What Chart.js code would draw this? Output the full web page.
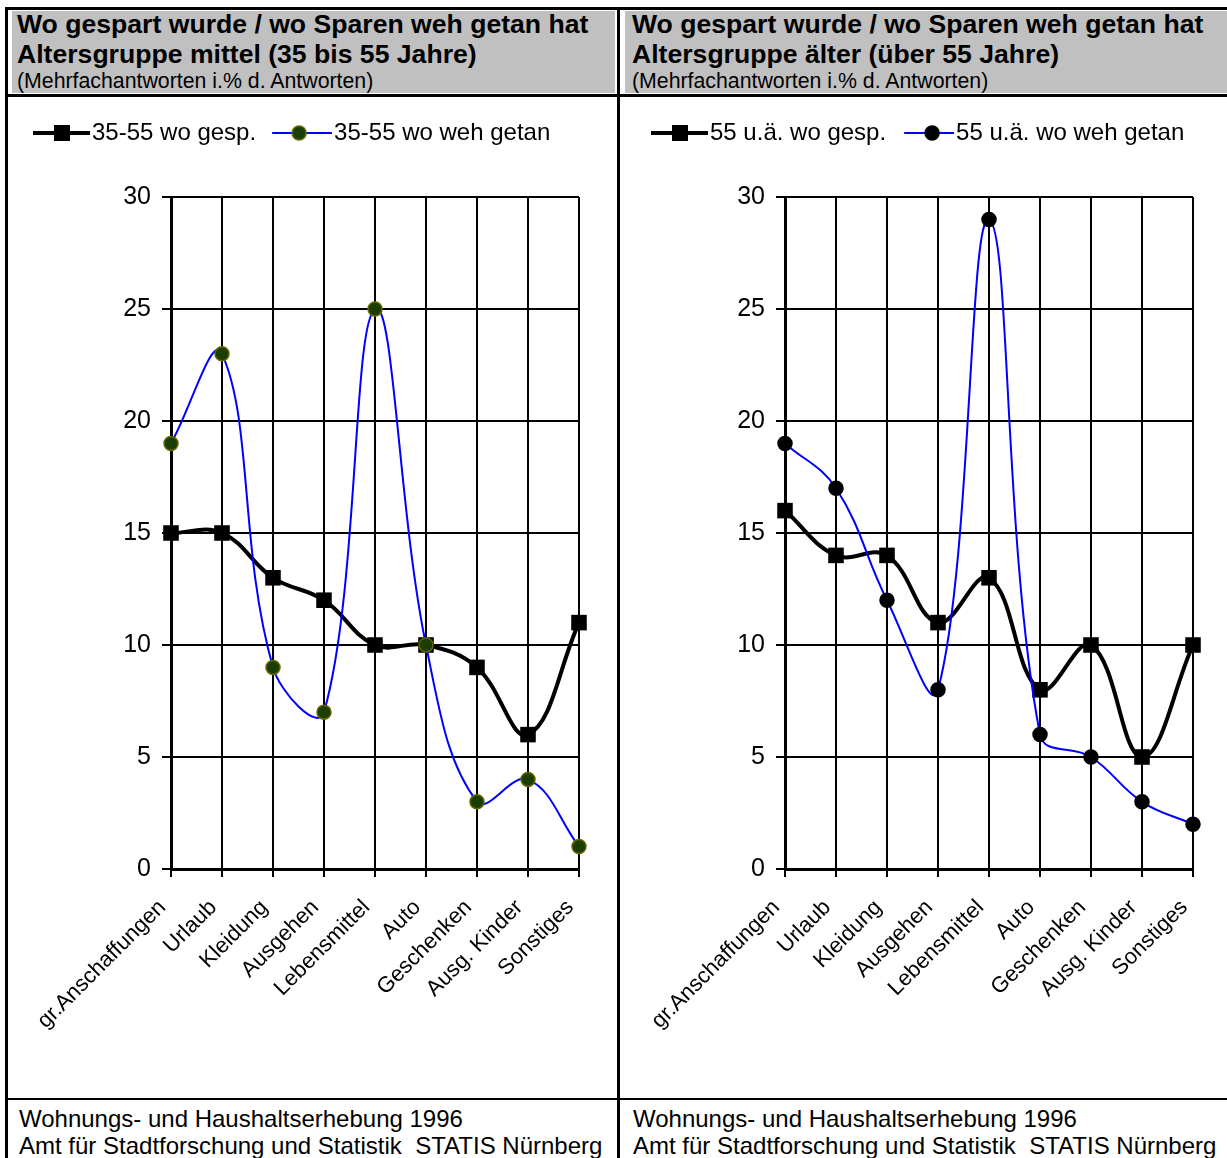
<!DOCTYPE html>
<html><head><meta charset="utf-8">
<script src="https://cdn.jsdelivr.net/npm/chart.js@4/dist/chart.umd.min.js"></script>
<style>
html,body{margin:0;padding:0;background:#fff;}
body{width:1227px;height:1158px;position:relative;overflow:hidden;font-family:"Liberation Sans",Arial,sans-serif;color:#000;}
.blk{position:absolute;background:#000;}
.gray{position:absolute;background:#c0c0c0;}
.t1{position:absolute;font-weight:bold;font-size:26.6px;line-height:30px;white-space:nowrap;}
.t3{position:absolute;font-size:21.3px;line-height:27px;white-space:nowrap;}
.ft{position:absolute;font-size:24px;line-height:27px;white-space:nowrap;}
canvas{position:absolute;}
</style></head><body>
<div class="gray" style="left:12px;top:11px;width:603px;height:82px"></div>
<div class="gray" style="left:625px;top:11px;width:602px;height:82px"></div>
<div class="blk" style="left:5px;top:7px;width:1222px;height:3px"></div>
<div class="blk" style="left:5px;top:7px;width:3px;height:1151px"></div>
<div class="blk" style="left:617px;top:7px;width:3px;height:1151px"></div>
<div class="blk" style="left:5px;top:94px;width:1222px;height:3px"></div>
<div class="blk" style="left:5px;top:1098px;width:1222px;height:2px"></div>

<div class="t1" style="left:17px;top:9px">Wo gespart wurde / wo Sparen weh getan hat</div>
<div class="t1" style="left:17px;top:39px">Altersgruppe mittel (35 bis 55 Jahre)</div>
<div class="t3" style="left:17px;top:68px">(Mehrfachantworten i.% d. Antworten)</div>
<div class="t1" style="left:632px;top:9px">Wo gespart wurde / wo Sparen weh getan hat</div>
<div class="t1" style="left:632px;top:39px">Altersgruppe älter (über 55 Jahre)</div>
<div class="t3" style="left:632px;top:68px">(Mehrfachantworten i.% d. Antworten)</div>

<div class="ft" style="left:19px;top:1105px">Wohnungs- und Haushaltserhebung 1996</div>
<div class="ft" style="left:19px;top:1132px">Amt für Stadtforschung und Statistik&nbsp; STATIS Nürnberg</div>
<div class="ft" style="left:633px;top:1105px">Wohnungs- und Haushaltserhebung 1996</div>
<div class="ft" style="left:633px;top:1132px">Amt für Stadtforschung und Statistik&nbsp; STATIS Nürnberg</div>

<canvas id="cLeft" width="608" height="1000" style="left:8px;top:97px;width:608px;height:1000px"></canvas>
<canvas id="cRight" width="606" height="1000" style="left:621px;top:97px;width:606px;height:1000px"></canvas>

<script>
// ---- data ----
const categories = ['gr.Anschaffungen','Urlaub','Kleidung','Ausgehen','Lebensmittel','Auto','Geschenken','Ausg. Kinder','Sonstiges'];
const midSaved = [15, 15, 13, 12, 10, 10, 9, 6, 11];
const midHurt  = [19, 23, 9, 7, 25, 10, 3, 4, 1];
const oldSaved = [16, 14, 14, 11, 13, 8, 10, 5, 10];
const oldHurt  = [19, 17, 12, 8, 29, 6, 5, 3, 2];
const midLabels = ['35-55 wo gesp.', '35-55 wo weh getan'];
const oldLabels = ['55 u.ä. wo gesp.', '55 u.ä. wo weh getan'];
const yMin = 0, yMax = 30, yStep = 5;

Chart.defaults.font.family = '"Liberation Sans", Arial, sans-serif';
Chart.defaults.color = '#000';

function legendImage(kind, fill, border, lineStart, circleX) {
  const c = document.createElement('canvas');
  c.width = 70; c.height = 20;
  const g = c.getContext('2d');
  if (kind === 'rect') {
    g.strokeStyle = '#000'; g.lineWidth = 4;
    g.beginPath(); g.moveTo(13, 10); g.lineTo(70, 10); g.stroke();
    g.fillStyle = '#000'; g.fillRect(34, 2, 16, 16);
  } else {
    g.strokeStyle = '#0000ff'; g.lineWidth = 2;
    g.beginPath(); g.moveTo(lineStart, 10); g.lineTo(70, 10); g.stroke();
    g.fillStyle = fill; g.strokeStyle = border; g.lineWidth = 1.5;
    g.beginPath(); g.arc(circleX, 10, 7, 0, Math.PI * 2); g.fill(); g.stroke();
  }
  return c;
}

function makeChart(id, labels, saved, hurt, hurtFill, hurtBorder, lay) {
  const imgs = [legendImage('rect'), legendImage('circle', hurtFill, hurtBorder, lay.lineStart, lay.circleX)];
  return new Chart(document.getElementById(id), {
    type: 'line',
    data: {
      labels: categories,
      datasets: [
        { label: labels[0], data: saved, order: 1, borderColor: '#000', borderWidth: 4,
          backgroundColor: '#000', pointStyle: 'rect', pointRadius: 11, pointBorderWidth: 0,
          pointBackgroundColor: '#000', tension: 0.4, clip: false },
        { label: labels[1], data: hurt, order: 0, borderColor: '#0000ff', borderWidth: 2,
          backgroundColor: hurtFill, pointStyle: 'circle', pointRadius: 7, pointBorderWidth: 1.5,
          pointBackgroundColor: hurtFill, pointBorderColor: hurtBorder, tension: 0.4, clip: false }
      ]
    },
    options: {
      responsive: false, animation: false, devicePixelRatio: 1, events: [],
      layout: { padding: { top: lay.padTop, left: lay.padLeft, right: lay.padRight, bottom: 0 } },
      plugins: {
        tooltip: { enabled: false },
        legend: {
          position: 'top', align: 'start',
          labels: {
            usePointStyle: true, pointStyleWidth: 50, padding: lay.legendPad,
            font: { size: 24 }, color: '#000',
            sort: (a, b) => a.datasetIndex - b.datasetIndex,
            generateLabels: (chart) => {
              const items = Chart.defaults.plugins.legend.labels.generateLabels(chart);
              items.forEach(it => { it.pointStyle = imgs[it.datasetIndex]; });
              return items;
            }
          }
        },
        title: { display: true, text: '', weight: 500, position: 'top',
                 font: { size: 1, lineHeight: 1 }, padding: { top: 0, bottom: 41 } }
      },
      scales: {
        x: {
          grid: { color: '#000', lineWidth: 2, tickLength: 8, offset: false },
          border: { color: '#000', width: 3 },
          offset: false,
          ticks: { maxRotation: 45, minRotation: 45, autoSkip: false, font: { size: 22 }, color: '#000', padding: 9,
                   callback: (v, i) => categories[i] + '  ' },
          afterFit: s => { s.height = 228; }
        },
        y: {
          min: yMin, max: yMax,
          grid: { color: '#000', lineWidth: 2, tickLength: 9 },
          border: { color: '#000', width: 3 },
          ticks: { stepSize: yStep, font: { size: 25 }, color: '#000', padding: 11 },
          afterFit: s => { s.width = lay.yWidth; }
        }
      }
    }
  });
}

makeChart('cLeft', midLabels, midSaved, midHurt, '#1a3d00', '#666600',
  { padTop: 8, padLeft: 6, padRight: 37, yWidth: 157, legendPad: 16, lineStart: 10, circleX: 37 });
makeChart('cRight', oldLabels, oldSaved, oldHurt, '#000000', '#000000',
  { padTop: 16, padLeft: 19, padRight: 34, yWidth: 145, legendPad: 8, lineStart: 20, circleX: 48 });
</script>
</body></html>
